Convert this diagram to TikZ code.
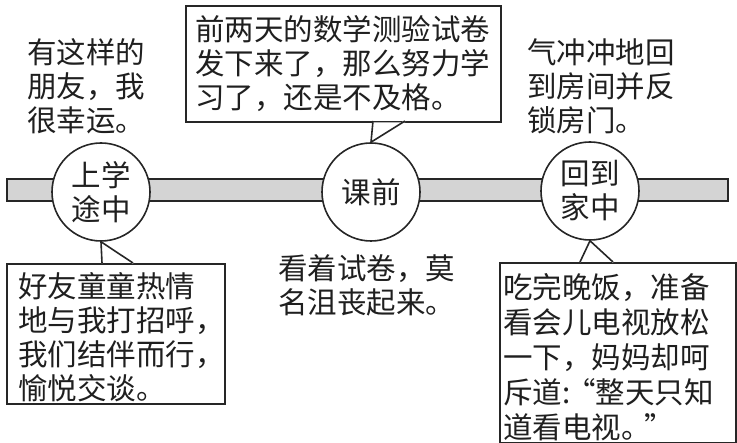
\documentclass[tikz,border=0pt]{standalone}
\usepackage{fontspec}
\setmainfont{Noto Sans CJK SC}
\begin{document}
\begin{tikzpicture}[x=1pt,y=-1pt,
  ink/.style={draw=black!85,line width=1.6pt},
  txt/.style={font=\fontsize{29.5pt}{34pt}\selectfont,inner sep=0pt,align=left,text=black!88},
  band/.style={ink,fill=black!17,minimum width=721pt,minimum height=22pt,inner sep=0pt},
  circ/.style={ink,circle,fill=white,minimum size=98pt,inner sep=0pt,
    font=\fontsize{29.5pt}{34pt}\selectfont,align=center,text=black!88},
  callout/.style={ink,fill=white,inner sep=0pt},
]
\useasboundingbox (0,0) rectangle (737,443);
% timeline band
\node[band] (band) at (367.5,190) {};
% circles
\node[circ] (c1) at (101,192) {上学\\途中};
\node[circ] (c2) at (371,192) {课前};
\node[circ] (c3) at (590,191) {回到\\家中};
% boxes
\node[callout,minimum width=218pt,minimum height=140pt,anchor=north west] (b1) at (6,263) {};
\node[callout,minimum width=315pt,minimum height=116pt,anchor=north west] (b2) at (185,5) {};
\node[callout,minimum width=236pt,minimum height=180pt,anchor=north west] (b3) at (499,262) {};
% pointer coordinates
\coordinate (p1a) at (102,263);
\coordinate (p1b) at (133,263);
\coordinate (p2a) at (373,121);
\coordinate (p2b) at (405,121);
\coordinate (p3a) at (580,262);
\coordinate (p3b) at (613,262);
% pointers
\fill[white] ([yshift=-1pt]p1a) -- (c1.south) -- ([yshift=-1pt]p1b) -- ([yshift=1.5pt]p1b) -- ([yshift=1.5pt]p1a) -- cycle;
\draw[ink,line join=miter] (p1a) -- (c1.south) -- (p1b);
\fill[white] ([yshift=1pt]p2a) -- (c2.north) -- ([yshift=1pt]p2b) -- ([yshift=-1.5pt]p2b) -- ([yshift=-1.5pt]p2a) -- cycle;
\draw[ink,line join=miter] (p2a) -- (c2.north) -- (p2b);
\fill[white] ([yshift=-1pt]p3a) -- (c3.south) -- ([yshift=-1pt]p3b) -- ([yshift=1.5pt]p3b) -- ([yshift=1.5pt]p3a) -- cycle;
\draw[ink,line join=miter] (p3a) -- (c3.south) -- (p3b);
% texts
\node[txt,anchor=west] (t1) at (27,86) {有这样的\\朋友，我\\很幸运。};
\node[txt,anchor=west] (t2) at (195,64) {前两天的数学测验试卷\\发下来了，那么努力学\\习了，还是不及格。};
\node[txt,anchor=west] (t3) at (527,86) {气冲冲地回\\到房间并反\\锁房门。};
\node[txt,anchor=west] (t4) at (18,337) {好友童童热情\\地与我打招呼，\\我们结伴而行，\\愉悦交谈。};
\node[txt,anchor=west] (t5) at (278,285) {看着试卷，莫\\名沮丧起来。};
\node[txt,anchor=west,font=\fontsize{29.5pt}{35pt}\selectfont] (t6) at (503,357) {吃完晚饭，准备\\看会儿电视放松\\一下，妈妈却呵\\斥道:\kern-0.15em“整天只知\\道看电视。\kern-0.2em”};
\end{tikzpicture}
\end{document}
